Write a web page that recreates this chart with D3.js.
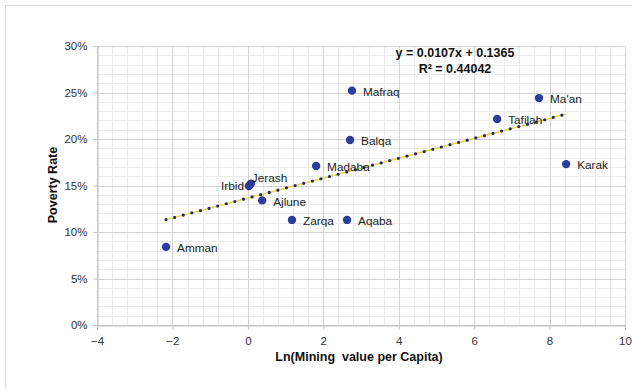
<!DOCTYPE html>
<html><head><meta charset="utf-8">
<script src="https://cdn.jsdelivr.net/npm/d3@7"></script>
<style>body{margin:0;background:#fff}svg{display:block}text{font-family:"Liberation Sans",Arial,sans-serif}</style>
</head><body><svg id="c" width="632" height="389"></svg>
<script>
const regions = ["Amman","Irbid","Jerash","Ajlune","Madaba","Zarqa","Aqaba","Balqa","Mafraq","Tafilah","Ma'an","Karak"];
const lnMining = [-2.17, 0.03, 0.08, 0.38, 1.81, 1.17, 2.63, 2.71, 2.76, 6.61, 7.72, 8.44];
const poverty = [0.084, 0.1495, 0.152, 0.134, 0.171, 0.113, 0.113, 0.199, 0.252, 0.2215, 0.244, 0.173];
const xTicks = [-4,-2,0,2,4,6,8,10];
const yTicks = [0,0.05,0.10,0.15,0.20,0.25,0.30];
const slope = 0.0107, intercept = 0.1365;
const eqLines = ["y = 0.0107x + 0.1365", "R\u00b2 = 0.44042"];
const xTitle = "Ln(Mining  value per Capita)";
const yTitle = "Poverty Rate";

const svg = d3.select("#c");
svg.append("rect").attr("x",5.5).attr("y",5.5).attr("width",700).attr("height",500)
  .attr("fill","#fff").attr("stroke","#d9d9d9");
const L=97,R=625,T=46,B=325;
const x = d3.scaleLinear().domain([-4,10]).range([L,R]);
const y = d3.scaleLinear().domain([0,0.30]).range([B,T]);

const g = svg.append("g");
// minor grid
const xMinor = d3.range(-4,10.001,0.4), yMinor = d3.range(0,0.3001,0.01);
g.selectAll(".mx").data(xMinor).join("line").attr("x1",d=>Math.round(x(d))+.5).attr("x2",d=>Math.round(x(d))+.5)
  .attr("y1",T).attr("y2",B).attr("stroke","#ebebeb");
g.selectAll(".my").data(yMinor).join("line").attr("y1",d=>Math.round(y(d))+.5).attr("y2",d=>Math.round(y(d))+.5)
  .attr("x1",L).attr("x2",R).attr("stroke","#ebebeb");
// major grid
g.selectAll(".gx").data(xTicks).join("line").attr("x1",d=>Math.round(x(d))+.5).attr("x2",d=>Math.round(x(d))+.5)
  .attr("y1",T).attr("y2",B).attr("stroke","#d3d3d3");
g.selectAll(".gy").data(yTicks).join("line").attr("y1",d=>Math.round(y(d))+.5).attr("y2",d=>Math.round(y(d))+.5)
  .attr("x1",L).attr("x2",R).attr("stroke","#d3d3d3");

// axes
const xa = svg.append("g").attr("transform",`translate(0,${B+.5})`)
  .call(d3.axisBottom(x).tickValues(xTicks).tickSize(4).tickPadding(7).tickFormat(d3.format("d")));
const ya = svg.append("g").attr("transform",`translate(${L+.5},0)`)
  .call(d3.axisLeft(y).tickValues(yTicks).tickSize(4).tickPadding(6).tickFormat(d3.format(".0%")));
[xa,ya].forEach(a=>{
  a.select(".domain").attr("stroke","#bfbfbf");
  a.selectAll(".tick line").attr("stroke","#bfbfbf");
  a.selectAll(".tick text").attr("fill","#333").attr("font-size",11.5).attr("font-family","Liberation Sans, Arial, sans-serif");
});

// trendline
const xe = d3.extent(lnMining);
const tl = [xe[0], xe[1]].map(v=>[x(v), y(slope*v+intercept)]);
const line = d3.line();
svg.append("path").attr("d",line(tl)).attr("stroke","#e8d84a").attr("stroke-width",1.5).attr("fill","none");
svg.append("path").attr("d",line(tl)).attr("stroke","#1f2a6b").attr("stroke-width",3.2)
  .attr("stroke-linecap","round").attr("stroke-dasharray","0 8.9").attr("fill","none");

// points
const data = regions.map((r,i)=>({r, x:lnMining[i], y:poverty[i]}));
svg.selectAll(".pt").data(data).join("circle").attr("cx",d=>x(d.x)).attr("cy",d=>y(d.y)).attr("r",4.2)
  .attr("fill","#2e3c9c");
const off = {"Irbid":[-5,0,"end"],"Jerash":[1,-6,"start"]};
svg.selectAll(".lb").data(data).join("text")
  .attr("x",d=>x(d.x)+(off[d.r]?off[d.r][0]:11))
  .attr("y",d=>y(d.y)+(off[d.r]?off[d.r][1]:1))
  .attr("dy","0.35em").attr("text-anchor",d=>off[d.r]?off[d.r][2]:"start")
  .attr("font-size",11.8).attr("fill","#222").text(d=>d.r);

// equation
svg.selectAll(".eq").data(eqLines).join("text").attr("x",455).attr("y",(d,i)=>57+i*16)
  .attr("text-anchor","middle").attr("font-size",12.5).attr("font-weight","bold").attr("fill","#111").text(d=>d);

// titles
svg.append("text").attr("x",359).attr("y",361).attr("text-anchor","middle").attr("font-size",12.5)
  .attr("font-weight","bold").attr("fill","#111").style("white-space","pre").text(xTitle);
svg.append("text").attr("transform","translate(57,185) rotate(-90)").attr("text-anchor","middle")
  .attr("font-size",12.5).attr("font-weight","bold").attr("fill","#111").text(yTitle);
</script></body></html>
